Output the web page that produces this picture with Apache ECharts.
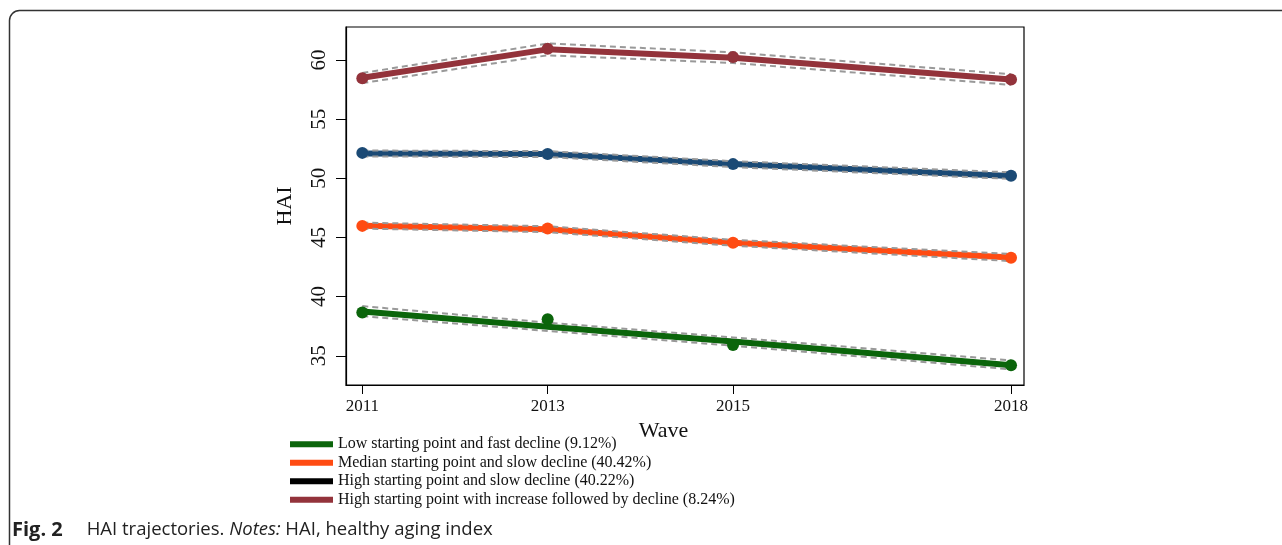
<!DOCTYPE html>
<html>
<head>
<meta charset="utf-8">
<script src="https://cdn.jsdelivr.net/npm/echarts@6/dist/echarts.min.js"></script>
<style>
html,body{margin:0;padding:0;background:#fff;}
#chart{width:1282px;height:545px;}
</style>
</head>
<body>
<div id="chart"></div>
<script>
// ---- data ----
var years = [2011, 2013, 2015, 2018];
var xTickLabels = [2011, 2013, 2015, 2018];
var yTickLabels = [35, 40, 45, 50, 55, 60];

var legendNames = [
  'Low starting point and fast decline (9.12%)',
  'Median starting point and slow decline (40.42%)',
  'High starting point and slow decline (40.22%)',
  'High starting point with increase followed by decline (8.24%)'
];

// Low starting point and fast decline
var lowObs   = [38.65, 38.08, 35.92, 34.2];
var lowFit   = [38.75, 37.45, 36.2, 34.2];
var lowUpper = [39.2, 37.8, 36.55, 34.6];
var lowLower = [38.35, 37.1, 35.85, 33.85];

// Median starting point and slow decline
var medObs   = [45.98, 45.75, 44.55, 43.28];
var medFit   = [46.0, 45.7, 44.55, 43.3];
var medUpper = [46.25, 45.95, 44.8, 43.6];
var medLower = [45.75, 45.45, 44.3, 43.0];

// High starting point and slow decline
var highObs   = [52.15, 52.05, 51.2, 50.22];
var highFit   = [52.1, 52.05, 51.2, 50.2];
var highUpper = [52.35, 52.3, 51.45, 50.5];
var highLower = [51.85, 51.8, 50.95, 49.95];

// High starting point with increase followed by decline
var incObs   = [58.45, 60.95, 60.25, 58.35];
var incFit   = [58.5, 60.9, 60.2, 58.35];
var incUpper = [58.9, 61.4, 60.65, 58.8];
var incLower = [58.05, 60.4, 59.75, 57.9];

// ---- build ----
var colors = ['#0b650b', '#ff4b12', '#1b4a75', '#93333b'];
var legendColors = ['#0b650b', '#ff4b12', '#000000', '#93333b'];
var groups = [
  [lowObs, lowFit, lowUpper, lowLower],
  [medObs, medFit, medUpper, medLower],
  [highObs, highFit, highUpper, highLower],
  [incObs, incFit, incUpper, incLower]
];
function pairs(vals){ return years.map(function(y,i){ return [y, vals[i]]; }); }

var series = [];
groups.forEach(function(g, k){
  series.push({
    name: legendNames[k], type: 'line', data: pairs(g[1]), symbol: 'none',
    lineStyle: {color: colors[k], width: 6}, itemStyle: {color: colors[k]}, z: 3, silent: true
  });
  [g[2], g[3]].forEach(function(ci){
    series.push({
      type: 'line', data: pairs(ci), symbol: 'none',
      lineStyle: {color: '#999999', width: 2, type: [6, 4]}, z: 4, silent: true
    });
  });
  series.push({
    type: 'scatter', data: pairs(g[0]), symbol: 'circle', symbolSize: 12,
    itemStyle: {color: colors[k], opacity: 1}, z: 5, silent: true
  });
});

var chart = echarts.init(document.getElementById('chart'), null, {renderer: 'canvas'});
chart.setOption({
  animation: false,
  backgroundColor: '#fff',
  grid: {left: 346, top: 27, width: 678, height: 358, show: true, borderColor: '#000', borderWidth: 1.2, containLabel: false},
  xAxis: {
    type: 'value', min: 2010.824, max: 2018.14,
    name: 'Wave', nameLocation: 'middle', nameGap: 26,
    nameTextStyle: {fontFamily: 'Liberation Serif', fontSize: 22, color: '#111', padding: [0, 43, 0, 0]},
    axisLine: {show: true, lineStyle: {color: '#000', width: 1.2}},
    axisTick: {show: true, length: 9, customValues: xTickLabels, lineStyle: {color: '#000'}},
    axisLabel: {customValues: xTickLabels, formatter: function(v){ return String(Math.round(v)); },
      fontFamily: 'Liberation Serif', fontSize: 17, color: '#111', margin: 13},
    splitLine: {show: false}
  },
  yAxis: {
    type: 'value', min: 32.53, max: 62.79,
    name: 'HAI', nameLocation: 'middle', nameGap: 50, nameRotate: 90,
    nameTextStyle: {fontFamily: 'Liberation Serif', fontSize: 22, color: '#111'},
    axisLine: {show: true, lineStyle: {color: '#000', width: 1.2}},
    axisTick: {show: true, length: 10, customValues: yTickLabels, lineStyle: {color: '#000'}},
    axisLabel: {customValues: yTickLabels, rotate: 90, fontFamily: 'Liberation Serif', fontSize: 21, color: '#111', margin: 16},
    splitLine: {show: false}
  },
  legend: {
    orient: 'vertical', left: 285, top: 431,
    icon: 'rect', itemWidth: 43, itemHeight: 6, itemGap: 2,
    textStyle: {fontFamily: 'Liberation Serif', fontSize: 16, color: '#111', lineHeight: 16.5},
    data: legendNames.map(function(n, k){ return {name: n, itemStyle: {color: legendColors[k]}}; })
  },
  graphic: [
    {type: 'rect', shape: {x: 9.5, y: 10.5, width: 1300, height: 600, r: 10},
     style: {fill: 'none', stroke: '#333', lineWidth: 1.5}, silent: true},
    {type: 'text', left: 12, top: 520,
     style: {
       text: '{b|Fig. 2}{r|HAI trajectories. }{i|Notes:}{r| HAI, healthy aging index}',
       rich: {
         b: {fontFamily: 'Open Sans', fontWeight: 'bold', fontSize: 20, fill: '#222', padding: [0, 24, 0, 0]},
         r: {fontFamily: 'Open Sans', fontSize: 18.5, fill: '#222'},
         i: {fontFamily: 'Open Sans', fontStyle: 'italic', fontSize: 18.5, fill: '#222'}
       }
     }}
  ],
  series: series
});
</script>
</body>
</html>
